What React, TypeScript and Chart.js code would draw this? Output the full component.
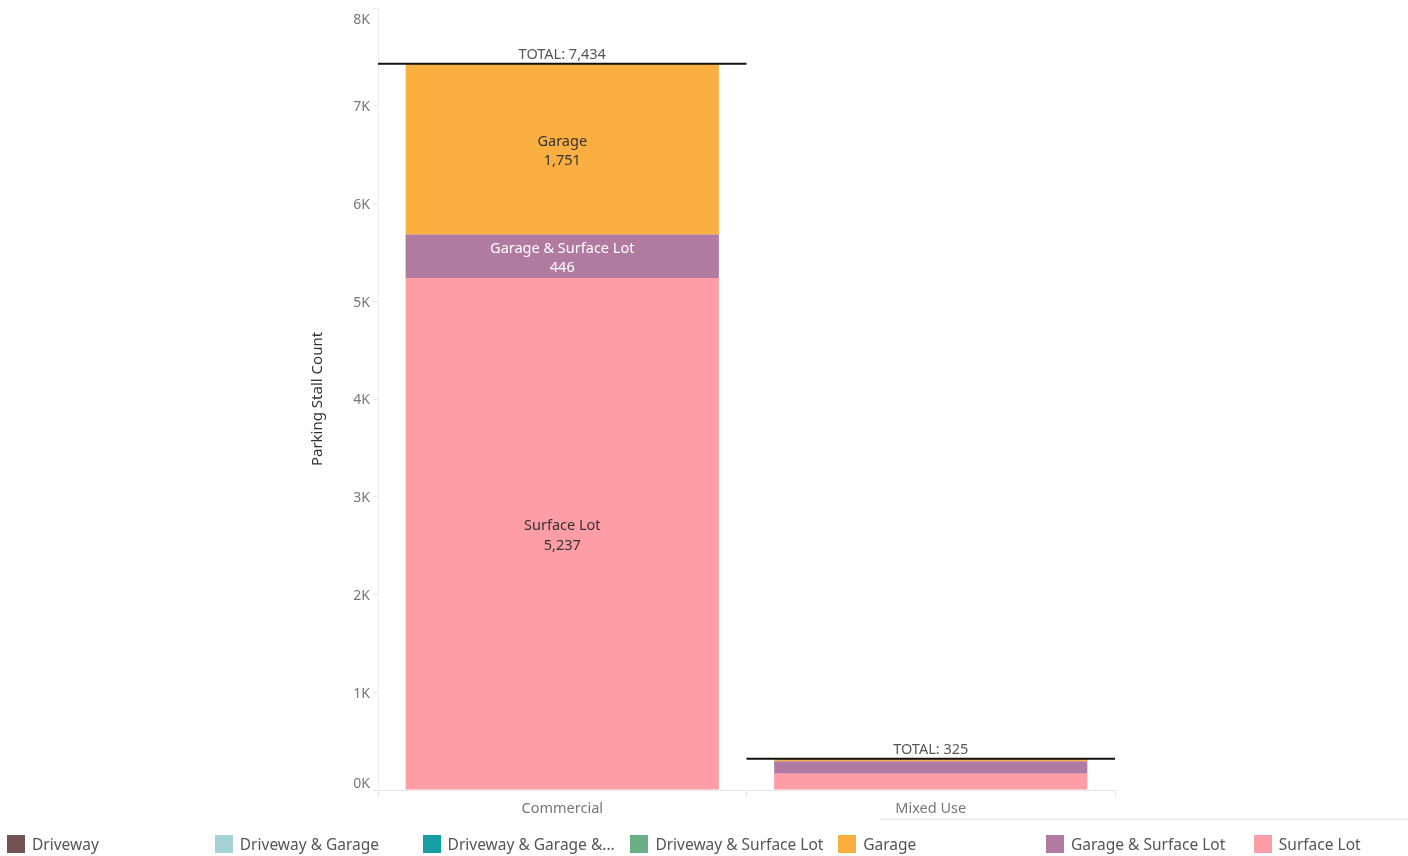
import React, { useEffect, useRef } from "react";
import { Chart, registerables } from "chart.js";

Chart.register(...registerables);

const categories = ["Commercial", "Mixed Use"];

const surfaceLot = [5237, 165];
const garageSurfaceLot = [446, 130];
const garage = [1751, 30];
const drivewaySurfaceLot = [0, 0];
const drivewayGarageSurfaceLot = [0, 0];
const drivewayGarage = [0, 0];
const driveway = [0, 0];

const seriesNames = [
  "Surface Lot",
  "Garage & Surface Lot",
  "Garage",
  "Driveway & Surface Lot",
  "Driveway & Garage & Surface Lot",
  "Driveway & Garage",
  "Driveway",
];
const seriesValues = [
  surfaceLot,
  garageSurfaceLot,
  garage,
  drivewaySurfaceLot,
  drivewayGarageSurfaceLot,
  drivewayGarage,
  driveway,
];
const seriesColors = [
  "#ff9da7",
  "#b07aa1",
  "#fbaf41",
  "#69ae84",
  "#14a0a3",
  "#a6d3d3",
  "#715352",
];
const labelColors = ["#333333", "#ffffff", "#333333", "#333333", "#ffffff", "#333333", "#ffffff"];

const legendOrder = [
  "Driveway",
  "Driveway & Garage",
  "Driveway & Garage & Surface Lot",
  "Driveway & Surface Lot",
  "Garage",
  "Garage & Surface Lot",
  "Surface Lot",
];

const yTickValues = [0, 1000, 2000, 3000, 4000, 5000, 6000, 7000, 8000];
const yAxisTitle = "Parking Stall Count";

const FONT = "'Noto Sans', sans-serif";

function fmt(n: number) {
  return n.toLocaleString("en-US");
}

function legendText(s: string) {
  return s.length > 22 ? s.slice(0, 19) + "..." : s;
}

const overlayPlugin = {
  id: "overlay",
  afterDatasetsDraw(chart: any) {
    const ctx = chart.ctx;
    const xScale = chart.scales.x;
    const yScale = chart.scales.y;
    ctx.save();
    // segment labels
    chart.data.datasets.forEach((ds: any, di: number) => {
      const meta = chart.getDatasetMeta(di);
      meta.data.forEach((el: any, i: number) => {
        const v = ds.data[i];
        if (!v) return;
        const h = Math.abs(el.base - el.y);
        if (h < 30) return;
        const cy = (el.base + el.y) / 2;
        ctx.fillStyle = labelColors[di];
        ctx.font = `14.5px ${FONT}`;
        ctx.textAlign = "center";
        ctx.textBaseline = "middle";
        ctx.fillText(ds.label, el.x, cy - 7.5);
        ctx.fillText(fmt(v), el.x, cy + 12);
      });
    });
    // totals
    const half = xScale.width / categories.length / 2;
    categories.forEach((_c, i) => {
      let total = 0;
      seriesValues.forEach((arr) => (total += arr[i]));
      const y = yScale.getPixelForValue(total);
      const cx = xScale.getPixelForValue(i);
      ctx.strokeStyle = "#111111";
      ctx.lineWidth = 2;
      ctx.beginPath();
      ctx.moveTo(cx - half, y + 0.5);
      ctx.lineTo(cx + half, y + 0.5);
      ctx.stroke();
      ctx.fillStyle = "#555555";
      ctx.font = `14.5px ${FONT}`;
      ctx.textAlign = "center";
      ctx.textBaseline = "middle";
      ctx.fillText("TOTAL: " + fmt(total), cx, y - 8);
    });
    ctx.restore();
  },
  afterDraw(chart: any) {
    const ctx = chart.ctx;
    const yScale = chart.scales.y;
    ctx.save();
    ctx.fillStyle = "#777777";
    ctx.font = `14px ${FONT}`;
    ctx.textAlign = "right";
    ctx.textBaseline = "middle";
    yTickValues.forEach((v, idx) => {
      let y = yScale.getPixelForValue(v) + 1.5;
      if (idx === 0) y -= 7;
      if (idx === yTickValues.length - 1) y += 11;
      ctx.fillText(v / 1000 + "K", 370, y);
    });
    const ca = chart.chartArea;
    ctx.translate(318, (ca.top + ca.bottom) / 2);
    ctx.rotate(-Math.PI / 2);
    ctx.fillStyle = "#333333";
    ctx.font = `15px ${FONT}`;
    ctx.textAlign = "center";
    ctx.textBaseline = "middle";
    ctx.fillText(yAxisTitle, 0, 0);
    ctx.restore();
  },
};

export default function App() {
  const ref = useRef<HTMLCanvasElement | null>(null);

  useEffect(() => {
    document.body.style.margin = "0";
    if (!ref.current) return;
    Chart.defaults.font.family = FONT;
    const chart = new Chart(ref.current, {
      type: "bar",
      data: {
        labels: categories,
        datasets: seriesNames.map((name, i) => ({
          label: name,
          data: seriesValues[i],
          backgroundColor: seriesColors[i],
          borderWidth: 0,
          categoryPercentage: 1,
          barPercentage: 0.85,
        })),
      },
      options: {
        responsive: false,
        animation: false,
        layout: { padding: { left: 0, top: 8, right: 293, bottom: 0 } },
        plugins: {
          legend: { display: false },
          tooltip: { enabled: false },
        },
        scales: {
          x: {
            stacked: true,
            afterFit: (s: any) => {
              s.height = 66;
            },
            grid: {
              offset: true,
              drawOnChartArea: false,
              tickLength: 7,
              color: "#e6e6e6",
            },
            border: { color: "#e6e6e6" },
            ticks: { color: "#777777", font: { size: 14.5, family: FONT }, padding: 3 },
          },
          y: {
            stacked: true,
            min: 0,
            max: 8000,
            afterFit: (s: any) => {
              s.width = 378;
            },
            grid: { drawOnChartArea: false, tickLength: 5, color: "#e6e6e6" },
            border: { color: "#eeeeee" },
            ticks: { display: false, stepSize: 1000 },
          },
        },
      },
      plugins: [overlayPlugin],
    });
    return () => chart.destroy();
  }, []);

  return (
    <div style={{ position: "fixed", left: 0, top: 0, width: 1408, height: 856, background: "#fff", fontFamily: FONT }}>
      <canvas ref={ref} width={1408} height={856} style={{ position: "absolute", left: 0, top: 0 }} />
      <div style={{ position: "absolute", left: 880, top: 819, width: 528, height: 1, background: "#e4e4e4" }} />
      {legendOrder.map((name, i) => {
        const ci = seriesNames.indexOf(name);
        const left = 7 + i * 207.8;
        return (
          <div key={name} style={{ position: "absolute", left, top: 835, height: 18, display: "flex", alignItems: "center", whiteSpace: "nowrap" }}>
            <div style={{ width: 18, height: 18, background: seriesColors[ci] }} />
            <span style={{ marginLeft: 7, fontSize: 15.5, color: "#555555", lineHeight: "18px" }}>{legendText(name)}</span>
          </div>
        );
      })}
    </div>
  );
}
